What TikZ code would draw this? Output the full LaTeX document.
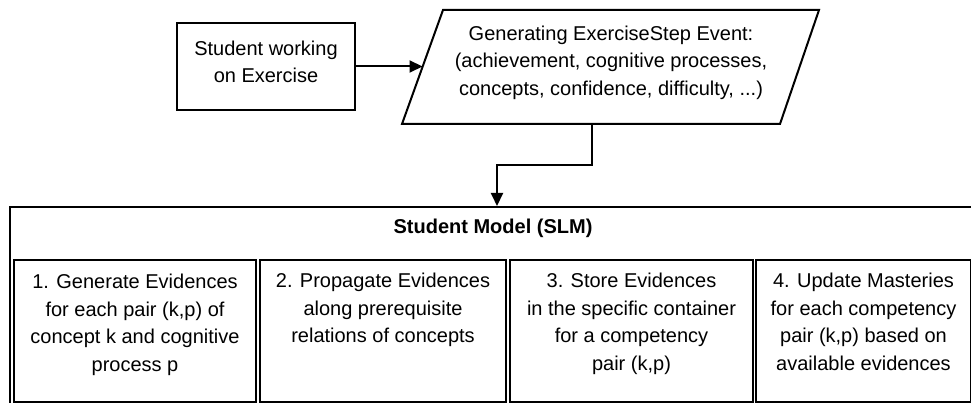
\documentclass[tikz,border=0pt]{standalone}
\usepackage{fontspec}
\setmainfont{Liberation Sans}
\usetikzlibrary{arrows.meta,calc}
\tikzset{
  boxline/.style={draw=black, line width=2pt, fill=none},
  plainbox/.style={boxline, rectangle, inner sep=0pt},
  lbl/.style={align=center, inner sep=0pt, font=\fontsize{20}{27.5}\selectfont},
  arr/.style={line width=2pt, -{Triangle[length=13pt,width=12pt]}},
}
\begin{document}
\begin{tikzpicture}[x=1pt,y=-1pt]
\useasboundingbox (0,0) rectangle (971,403);
% top row
\node[plainbox, minimum width=178pt, minimum height=87pt] (student) at (266,66.5) {};
\node[lbl, anchor=north] (studenttxt) at (266,40.5) {Student working\\on Exercise};
\coordinate (pTL) at (443,10);
\coordinate (pTR) at (819,10);
\coordinate (pBR) at (780,124);
\coordinate (pBL) at (402,124);
\draw[boxline, line join=miter] (pTL) -- (pTR) -- (pBR) -- (pBL) -- cycle;
\coordinate (pin) at (422.5,66.5);
\coordinate (pout) at (592,124);
\node[lbl, anchor=north] (paratxt) at (611,25.4) {Generating ExerciseStep Event:\\(achievement, cognitive processes,\\concepts, confidence, difficulty, ...)};
% student model
\node[plainbox, anchor=north west, minimum width=964pt, minimum height=199pt] (slm) at (9,206) {};
\node[font=\fontsize{20}{24}\selectfont\bfseries, anchor=base, inner sep=0pt] (title) at (493,234) {Student Model (SLM)};
\node[plainbox, anchor=north west, minimum width=242pt, minimum height=142pt] (e1) at (13,259) {};
\node[plainbox, anchor=north west, minimum width=246pt, minimum height=142pt] (e2) at (259,259) {};
\node[plainbox, anchor=north west, minimum width=243pt, minimum height=142pt] (e3) at (509,259) {};
\node[plainbox, anchor=north west, minimum width=215pt, minimum height=142pt] (e4) at (755,259) {};
\node[lbl, anchor=north] (t1) at (e1.north |- 0,274) {1. Generate Evidences\\for each pair (k,p) of\\concept k and cognitive\\process p};
\node[lbl, anchor=north] (t2) at (e2.north |- 0,273) {2. Propagate Evidences\\along prerequisite\\relations of concepts};
\node[lbl, anchor=north] (t3) at (e3.north |- 0,273) {3. Store Evidences\\in the specific container\\for a competency\\pair (k,p)};
\node[lbl, anchor=north] (t4) at (e4.north |- 0,273) {4. Update Masteries\\for each competency\\pair (k,p) based on\\available evidences};
% connectors
\draw[arr] (student.east) -- (pin);
\coordinate (bend) at ($(pout)+(0,41)$);
\draw[arr] (pout) -- (bend) -| ([xshift=5pt]slm.north);
\end{tikzpicture}
\end{document}
